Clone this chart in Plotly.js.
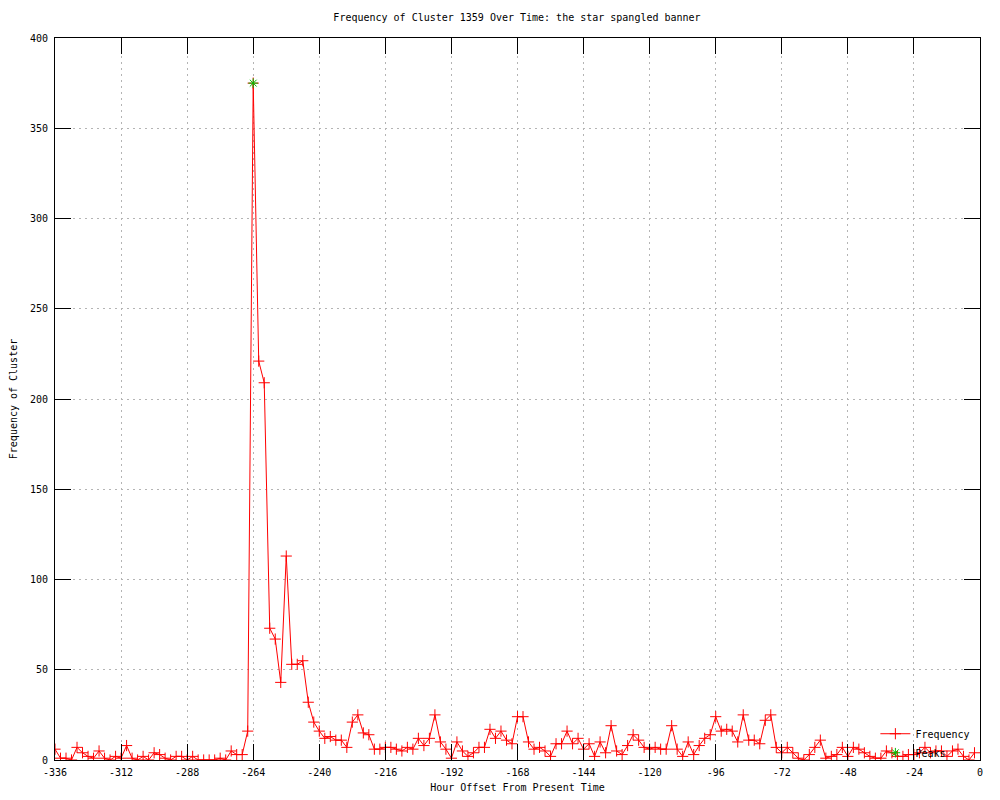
<!DOCTYPE html>
<html>
<head>
<meta charset="utf-8">
<script src="https://cdn.plot.ly/plotly-3.0.1.min.js"></script>
<style>html,body{margin:0;padding:0;background:#fff;}#chart{width:1000px;height:800px;}</style>
</head>
<body>
<div id="chart"></div>
<script>
const hours = [-336,-334,-332,-330,-328,-326,-324,-322,-320,-318,-316,-314,-312,-310,-308,-306,-304,-302,-300,-298,
-296,-294,-292,-290,-288,-286,-284,-282,-280,-278,-276,-274,-272,-270,-268,-266,-264,-262,-260,-258,
-256,-254,-252,-250,-248,-246,-244,-242,-240,-238,-236,-234,-232,-230,-228,-226,-224,-222,-220,-218,
-216,-214,-212,-210,-208,-206,-204,-202,-200,-198,-196,-194,-192,-190,-188,-186,-184,-182,-180,-178,
-176,-174,-172,-170,-168,-166,-164,-162,-160,-158,-156,-154,-152,-150,-148,-146,-144,-142,-140,-138,
-136,-134,-132,-130,-128,-126,-124,-122,-120,-118,-116,-114,-112,-110,-108,-106,-104,-102,-100,-98,
-96,-94,-92,-90,-88,-86,-84,-82,-80,-78,-76,-74,-72,-70,-68,-66,-64,-62,-60,-58,
-56,-54,-52,-50,-48,-46,-44,-42,-40,-38,-36,-34,-32,-30,-28,-26,-24,-22,-20,-18,
-16,-14,-12,-10,-8,-6,-4,-2];
const frequency = [6,1,1,0,7,4,2,1,5,1,0,2,1,8,1,0,2,0,4,3,
1,0,2,2,0,2,0,0,0,0,1,0,5,3,3,16,375,221,209,73,
67,43,113,53,53,55,32,21,16,12,13,11,11,7,21,25,15,14,6,6,
7,7,6,5,7,6,12,8,12,25,10,6,1,10,5,2,4,7,7,17,
12,16,11,9,24,24,10,6,7,5,2,9,9,16,9,12,6,9,2,10,
4,19,5,3,8,14,11,7,6,7,6,6,19,6,2,10,3,8,12,14,
24,16,17,16,10,25,11,11,9,22,25,7,4,7,4,1,0,3,7,11,
1,2,3,7,2,7,6,4,2,1,1,5,4,2,2,3,3,4,7,4,
5,5,2,5,6,2,0,4];
const peakHours = [-264];
const peakValues = [375];
const xTicks = [-336,-312,-288,-264,-240,-216,-192,-168,-144,-120,-96,-72,-48,-24,0];
const yTicks = [0,50,100,150,200,250,300,350,400];

const mono = {family: '"DejaVu Sans Mono", "Liberation Mono", monospace', size: 10, color: '#000'};

const traces = [
  {
    x: hours, y: frequency, name: 'Frequency', type: 'scatter', mode: 'lines+markers',
    line: {color: '#ff0000', width: 1},
    marker: {symbol: 'cross-thin-open', size: 8, color: '#ff0000', line: {color: '#ff0000', width: 1}}
  },
  {
    x: peakHours, y: peakValues, name: 'Peaks', type: 'scatter', mode: 'markers',
    marker: {symbol: 'asterisk-open', size: 8, color: '#00c000', line: {color: '#00c000', width: 1}}
  }
];

const axisCommon = {
  showline: true, linecolor: '#000', linewidth: 1, mirror: 'ticks',
  ticks: 'inside', ticklen: 16, tickcolor: '#000', tickwidth: 1,
  showgrid: true, gridcolor: '#b4b4b4', griddash: '2px,4px', gridwidth: 1,
  zeroline: false, tickfont: mono
};

const layout = {
  width: 1000, height: 800,
  paper_bgcolor: '#fff', plot_bgcolor: '#fff',
  margin: {l: 55, r: 20, t: 38, b: 40},
  font: mono,
  title: {text: 'Frequency of Cluster 1359 Over Time: the star spangled banner', font: mono, x: 0.517, xanchor: 'center', y: 0.978, yanchor: 'middle'},
  xaxis: Object.assign({}, axisCommon, {
    range: [-336, 0], tickvals: xTicks, ticktext: xTicks.map(String), ticklabelstandoff: 3,
    title: {text: 'Hour Offset From Present Time', font: mono, standoff: 6}
  }),
  yaxis: Object.assign({}, axisCommon, {
    range: [0, 400], tickvals: yTicks, ticktext: yTicks.map(String), ticklabelstandoff: 4,
    title: {text: 'Frequency of Cluster', font: mono, standoff: 10}
  }),
  showlegend: true,
  legend: {x: 0.995, y: -0.01, xanchor: 'right', yanchor: 'bottom', bgcolor: 'rgba(0,0,0,0)', font: mono, itemwidth: 30, tracegroupgap: 0}
};

Plotly.newPlot('chart', traces, layout, {staticPlot: true});
</script>
</body>
</html>
